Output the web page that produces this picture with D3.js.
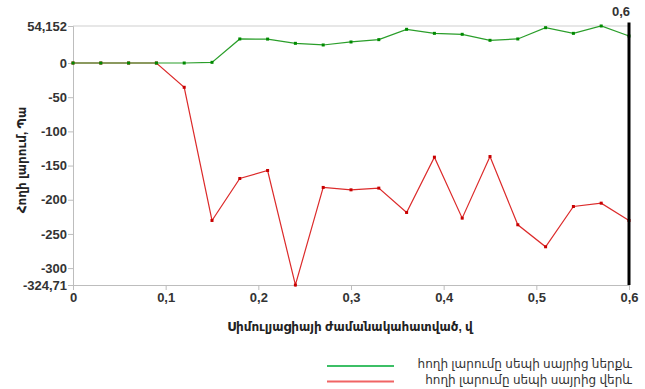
<!DOCTYPE html>
<html>
<head>
<meta charset="utf-8">
<script src="https://cdn.jsdelivr.net/npm/d3@7/dist/d3.min.js"></script>
<style>
  body { margin: 0; background: #fff; }
  svg { display: block; font-family: Arial, "Liberation Sans", "DejaVu Sans", sans-serif; }
</style>
</head>
<body>
<div id="chart"></div>
<script>
// data
const times = [0, 0.03, 0.06, 0.09, 0.12, 0.15, 0.18, 0.21, 0.24, 0.27, 0.30,
  0.33, 0.36, 0.39, 0.42, 0.45, 0.48, 0.51, 0.54, 0.57, 0.60];
const below = [0, 0, 0, 0, 0, 1, 35.2, 35, 28.8, 26.4, 30.8,
  34.2, 49.3, 43.4, 42, 33.2, 35.2, 51.7, 43.4, 54.152, 39.5];
const above = [0, 0, 0, 0, -35.5, -230.3, -168.9, -157.2, -324.71, -182, -185.5,
  -183, -218.6, -137.7, -226.9, -136.8, -236.6, -268.8, -209.9, -205, -230.3];
const yTicks = [54.152, 0, -50, -100, -150, -200, -250, -300, -324.71];
const xTicks = [0, 0.1, 0.2, 0.3, 0.4, 0.5, 0.6];
const seriesNames = ['հողի լարումը սեպի սայրից ներքև', 'հողի լարումը սեպի սայրից վերև'];
const cursorTime = 0.6;

const W = 645, H = 389;
const margin = { top: 26, right: 16, bottom: 104, left: 73 };
const height = H - margin.top - margin.bottom;

const svg = d3.select('#chart').append('svg')
  .attr('width', W)
  .attr('height', H);

const g = svg.append('g')
  .attr('transform', `translate(${margin.left},${margin.top})`);

const x = d3.scaleLinear().domain([0, 0.6]).range([0, 556]);
const y = d3.scaleLinear().domain([-324.71, 54.152]).range([height, 0]);

const fmt = d => String(+d.toFixed(3)).replace('.', ',');

// top frame line
g.append('line')
  .attr('x1', 0).attr('x2', 556)
  .attr('y1', 0).attr('y2', 0)
  .attr('stroke', '#cfcfcf');

// y axis
const yAxis = g.append('g')
  .call(d3.axisLeft(y).tickValues(yTicks).tickFormat(fmt).tickSize(5).tickPadding(1));
yAxis.select('.domain').attr('stroke', '#bdbdbd');
yAxis.selectAll('.tick line').attr('stroke', '#bdbdbd');
yAxis.selectAll('text')
  .attr('fill', '#333')
  .attr('font-size', 13)
  .attr('font-weight', 'bold');

// x axis
const xAxis = g.append('g')
  .attr('transform', `translate(0,${height})`)
  .call(d3.axisBottom(x).tickValues(xTicks).tickFormat(fmt).tickSize(5).tickPadding(3));
xAxis.select('.domain').attr('stroke', '#bdbdbd');
xAxis.selectAll('.tick line').attr('stroke', '#bdbdbd');
xAxis.selectAll('text')
  .attr('fill', '#333')
  .attr('font-size', 13)
  .attr('font-weight', 'bold');

// axis titles
svg.append('text')
  .attr('x', 350).attr('y', 331)
  .attr('text-anchor', 'middle')
  .attr('fill', '#222')
  .attr('font-size', 12)
  .attr('font-weight', 'bold')
  .text('Սիմուլյացիայի ժամանակահատված, վ');

svg.append('text')
  .attr('transform', 'translate(26,160) rotate(-90)')
  .attr('text-anchor', 'middle')
  .attr('fill', '#222')
  .attr('font-size', 12)
  .attr('font-weight', 'bold')
  .text('Հողի լարում, Պա');

// series (red first so green sits on top along zero)
const series = [
  { values: above, line: '#dc2a2a', dot: '#c80000' },
  { values: below, line: '#2a9e2a', dot: '#008a00' }
];

const line = d3.line()
  .x((d, i) => x(times[i]))
  .y(d => y(d));

series.forEach(s => {
  g.append('path')
    .datum(s.values)
    .attr('fill', 'none')
    .attr('stroke', s.line)
    .attr('stroke-width', 1.2)
    .attr('d', line);

  g.selectAll(null)
    .data(s.values)
    .enter().append('rect')
    .attr('x', (d, i) => x(times[i]) - 1.5)
    .attr('y', d => y(d) - 1.5)
    .attr('width', 3)
    .attr('height', 3)
    .attr('fill', s.dot);
});

// cursor line
g.append('line')
  .attr('x1', x(cursorTime)).attr('x2', x(cursorTime))
  .attr('y1', -3.5).attr('y2', height)
  .attr('stroke', '#000')
  .attr('stroke-width', 3);

g.append('text')
  .attr('x', x(cursorTime) + 1)
  .attr('y', -10)
  .attr('text-anchor', 'end')
  .attr('fill', '#333')
  .attr('font-size', 13)
  .attr('font-weight', 'bold')
  .text(fmt(cursorTime));

// legend
const legendColors = ['#3cbf66', '#f06464'];
const legend = svg.append('g');
seriesNames.forEach((name, i) => {
  const ly = 366 + i * 15.5;
  legend.append('line')
    .attr('x1', 327).attr('x2', 394)
    .attr('y1', ly).attr('y2', ly)
    .attr('stroke', legendColors[i])
    .attr('stroke-width', 2);
  legend.append('text')
    .attr('x', 632).attr('y', ly + 2)
    .attr('text-anchor', 'end')
    .attr('fill', '#333')
    .attr('font-size', 12)
    .text(name);
});
</script>
</body>
</html>
